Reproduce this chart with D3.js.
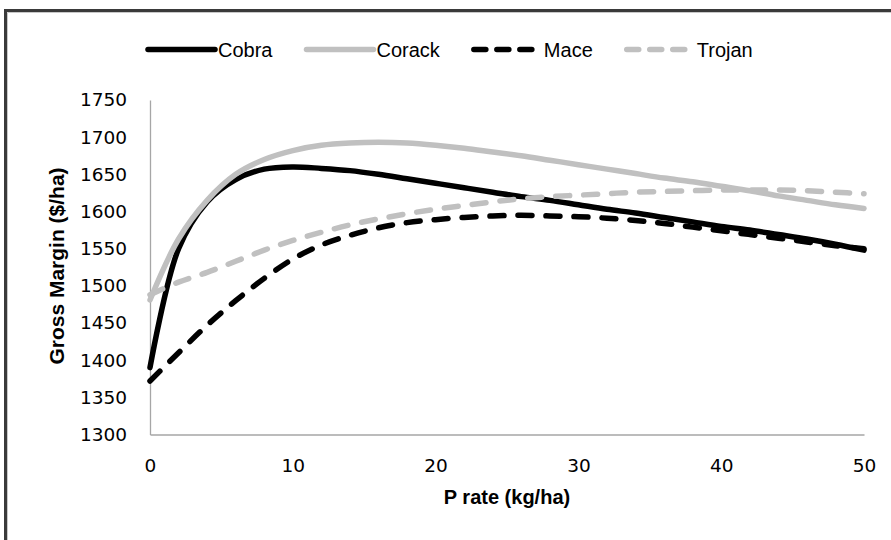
<!DOCTYPE html>
<html>
<head>
<meta charset="utf-8">
<script src="https://cdn.jsdelivr.net/npm/d3@7"></script>
<style>
  html, body { margin: 0; padding: 0; background: #fff; }
  svg { display: block; }
</style>
</head>
<body>
<svg id="chart" width="891" height="540"></svg>
<script>
const pRate = [0,2,4,6,8,10,12,14,16,18,20,22,24,26,28,30,32,34,36,38,40,42,44,46,48,50];
const cobra  = [1390,1550,1613,1643,1657,1660,1658,1655,1650,1644,1638,1632,1626,1620,1615,1609,1603,1598,1592,1586,1580,1575,1569,1563,1556,1548];
const corack = [1481,1563,1615,1650,1670,1682,1689,1692,1693,1692,1689,1685,1680,1675,1669,1663,1657,1651,1645,1640,1634,1628,1621,1615,1609,1604];
const mace   = [1372,1410,1447,1480,1510,1536,1555,1568,1578,1585,1589,1592,1594,1595,1594,1593,1591,1588,1584,1579,1574,1569,1564,1559,1554,1550];
const trojan = [1488,1505,1518,1533,1548,1561,1572,1582,1590,1597,1603,1608,1613,1617,1620,1622,1624,1626,1627,1628,1629,1629,1629,1628,1626,1624];
const seriesNames = ["Cobra","Corack","Mace","Trojan"];
const xTicks = [0,10,20,30,40,50];
const yTicks = [1300,1350,1400,1450,1500,1550,1600,1650,1700,1750];

const svg = d3.select("#chart");
const black = "#000000", gray = "#c0c0c0";
const styles = {
  Cobra:  {color: black, dash: null},
  Corack: {color: gray,  dash: null},
  Mace:   {color: black, dash: "14,14"},
  Trojan: {color: gray,  dash: "14,14"}
};
const valuesBy = {Cobra: cobra, Corack: corack, Mace: mace, Trojan: trojan};

// outer frame
svg.append("rect").attr("x", 5.5).attr("y", 10.5).attr("width", 950).attr("height", 600)
  .attr("fill", "none").attr("stroke", "#3a3a3a").attr("stroke-width", 3);
svg.append("path").attr("d", "M7.5,600 V12.5 H950").attr("fill","none")
  .attr("stroke", "#c8c8c8").attr("stroke-width", 1);

const x = d3.scaleLinear().domain([0,50]).range([150,864]);
const y = d3.scaleLinear().domain([1300,1750]).range([434.5,100]);

const tickFont = "DejaVu Sans, sans-serif";

// axes
const xAxis = svg.append("g").attr("transform", "translate(0,434.5)")
  .call(d3.axisBottom(x).tickValues(xTicks).tickFormat(d3.format("d")).tickSize(0).tickPadding(24));
xAxis.select(".domain").attr("stroke", "#a6a6a6").attr("stroke-width", 1.3);
xAxis.selectAll("text").attr("font-family", tickFont).attr("font-size", 18.5).attr("fill", "#000");

const yAxis = svg.append("g").attr("transform", "translate(150,0)")
  .call(d3.axisLeft(y).tickValues(yTicks).tickFormat(d3.format("d")).tickSize(0).tickPadding(23));
yAxis.select(".domain").attr("stroke", "#a6a6a6").attr("stroke-width", 1.3);
yAxis.selectAll("text").attr("font-family", tickFont).attr("font-size", 18.5).attr("fill", "#000");

// axis titles
svg.append("text").attr("x", 507).attr("y", 504).attr("text-anchor", "middle")
  .attr("font-family", "Liberation Sans, Arial, sans-serif").attr("font-weight", "bold")
  .attr("font-size", 20).text("P rate (kg/ha)");
svg.append("text").attr("transform", "translate(64,266) rotate(-90)").attr("text-anchor", "middle")
  .attr("font-family", "Liberation Sans, Arial, sans-serif").attr("font-weight", "bold")
  .attr("font-size", 21).text("Gross Margin ($/ha)");

// lines
const line = d3.line().x((d,i) => x(pRate[i])).y(d => y(d)).curve(d3.curveCatmullRom.alpha(0.5));
seriesNames.forEach(name => {
  const s = styles[name];
  svg.append("path").datum(valuesBy[name])
    .attr("d", line).attr("fill", "none")
    .attr("stroke", s.color).attr("stroke-width", 5.5)
    .attr("stroke-linecap", "round").attr("stroke-linejoin", "round")
    .attr("stroke-dasharray", s.dash);
});

// legend
const leg = svg.append("g");
let lx = 148;
const ly = 49.5;
seriesNames.forEach(name => {
  const s = styles[name];
  leg.append("line").attr("x1", lx).attr("x2", lx + 67).attr("y1", ly).attr("y2", ly)
    .attr("stroke", s.color).attr("stroke-width", 5.5).attr("stroke-linecap", "round")
    .attr("stroke-dasharray", s.dash ? "12,11" : null);
  const t = leg.append("text").attr("x", lx + 70).attr("y", ly + 7.5)
    .attr("font-family", "Liberation Sans, Arial, sans-serif").attr("font-size", 20)
    .attr("fill", "#000").text(name);
  const w = t.node().getComputedTextLength();
  lx = lx + 70 + w + 34;
});
</script>
</body>
</html>
